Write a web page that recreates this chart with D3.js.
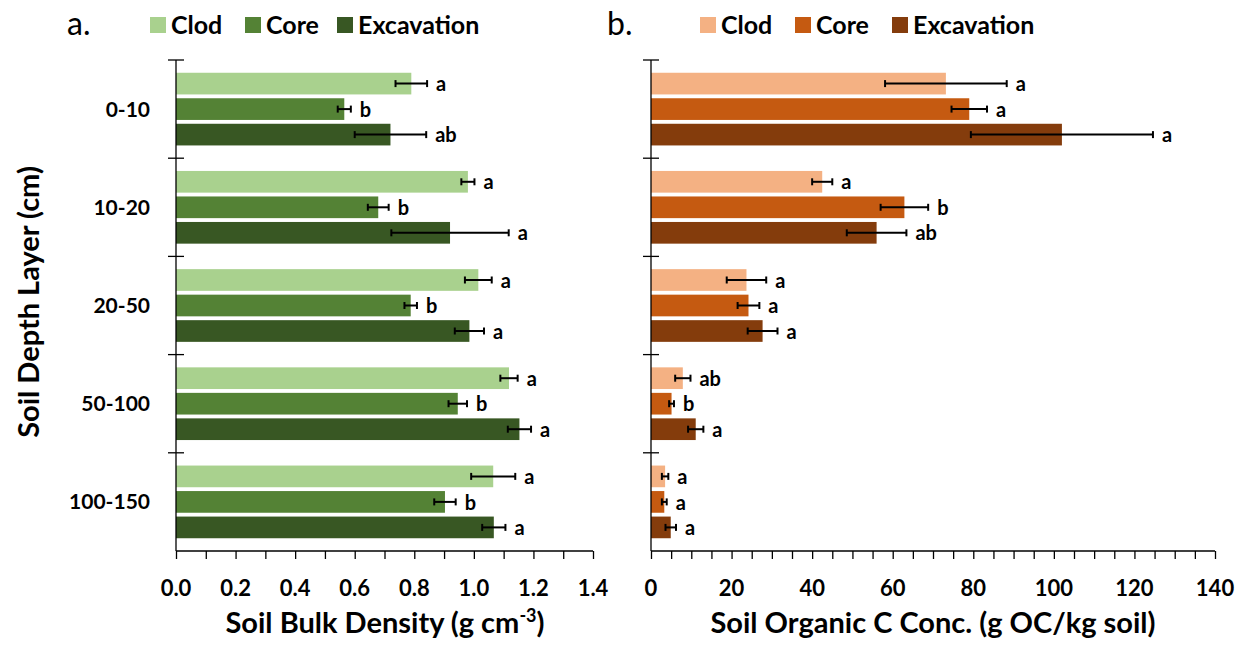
<!DOCTYPE html>
<html>
<head>
<meta charset="utf-8">
<script src="https://cdn.jsdelivr.net/npm/d3@7"></script>
<style>
  body { margin: 0; background: #fff; }
  text { font-family: Lato, "Open Sans", sans-serif; }
</style>
</head>
<body>
<script>
var width = 1247, height = 647;

// depth layers and treatments
var layers = ["0-10", "10-20", "20-50", "50-100", "100-150"];
var methods = ["Clod", "Core", "Excavation"];

// bulk density (g cm-3), per method, per layer
var bdClod = [0.79, 0.98, 1.015, 1.118, 1.065];
var bdCore = [0.565, 0.679, 0.788, 0.946, 0.903];
var bdExc  = [0.72, 0.92, 0.985, 1.153, 1.067];
var bdClodErr = [0.053, 0.022, 0.045, 0.029, 0.074];
var bdCoreErr = [0.022, 0.035, 0.021, 0.031, 0.036];
var bdExcErr  = [0.12, 0.197, 0.049, 0.039, 0.039];
var bdClodLet = ["a", "a", "a", "a", "a"];
var bdCoreLet = ["b", "b", "b", "b", "b"];
var bdExcLet  = ["ab", "a", "a", "a", "a"];

// organic C (g OC/kg soil)
var ocClod = [73.2, 42.5, 23.7, 7.9, 3.5];
var ocCore = [79.0, 62.9, 24.2, 5.1, 3.3];
var ocExc  = [102.0, 56.0, 27.7, 11.1, 4.9];
var ocClodErr = [15.1, 2.5, 4.9, 1.9, 0.8];
var ocCoreErr = [4.4, 5.9, 2.7, 0.6, 0.6];
var ocExcErr  = [22.6, 7.4, 3.7, 1.9, 1.3];
var ocClodLet = ["a", "a", "a", "ab", "a"];
var ocCoreLet = ["a", "b", "a", "b", "a"];
var ocExcLet  = ["a", "ab", "a", "a", "a"];

var bdTicks = [0, 0.2, 0.4, 0.6, 0.8, 1.0, 1.2, 1.4];
var ocTicks = [0, 20, 40, 60, 80, 100, 120, 140];

var greens = ["#a9d18e", "#548235", "#385723"];
var browns = ["#f4b183", "#c55a11", "#843c0c"];

function buildRows(vals, errs, lets) {
  var rows = [];
  layers.forEach(function(l, i) {
    methods.forEach(function(m, j) {
      rows.push({layer: l, method: m, v: vals[j][i], e: errs[j][i], lab: lets[j][i]});
    });
  });
  return rows;
}

var svg = d3.select("body").append("svg")
    .attr("width", width)
    .attr("height", height);

var y = d3.scaleBand().domain(layers).range([60, 551]).paddingInner(0).paddingOuter(0);
var yIn = d3.scaleBand().domain(methods).range([0, y.bandwidth()])
    .paddingInner(0.15).paddingOuter(0.5);

function drawPanel(opt) {
  var x = d3.scaleLinear().domain([0, opt.max]).range([opt.x0, opt.x1]);
  var g = svg.append("g");
  var rows = buildRows(opt.vals, opt.errs, opt.lets);

  g.selectAll(".bar").data(rows).enter().append("rect")
      .attr("x", x(0))
      .attr("y", function(d) { return y(d.layer) + yIn(d.method); })
      .attr("width", function(d) { return x(d.v) - x(0); })
      .attr("height", yIn.bandwidth())
      .attr("fill", function(d) { return opt.colors[methods.indexOf(d.method)]; });

  // error bars
  var eb = g.selectAll(".err").data(rows).enter().append("g")
      .attr("transform", function(d) { return "translate(0," + (y(d.layer) + yIn(d.method) + yIn.bandwidth() / 2) + ")"; })
      .attr("stroke", "#000").attr("stroke-width", 2);
  eb.append("line")
      .attr("x1", function(d) { return x(d.v - d.e); })
      .attr("x2", function(d) { return x(d.v + d.e); });
  eb.append("line")
      .attr("x1", function(d) { return x(d.v - d.e); })
      .attr("x2", function(d) { return x(d.v - d.e); })
      .attr("y1", -3.5).attr("y2", 3.5);
  eb.append("line")
      .attr("x1", function(d) { return x(d.v + d.e); })
      .attr("x2", function(d) { return x(d.v + d.e); })
      .attr("y1", -3.5).attr("y2", 3.5);

  g.selectAll(".lab").data(rows).enter().append("text")
      .attr("x", function(d) { return x(d.v + d.e) + 9; })
      .attr("y", function(d) { return y(d.layer) + yIn(d.method) + yIn.bandwidth() / 2; })
      .attr("dy", "0.38em")
      .attr("font-size", 20).attr("font-weight", "bold")
      .text(function(d) { return d.lab; });

  // x axis with minor ticks
  var minor = d3.range(0, opt.max + opt.minor / 2, opt.minor);
  var xa = g.append("g").attr("transform", "translate(0,551)")
      .call(d3.axisBottom(x).tickValues(minor).tickSize(8).tickFormat(""));
  xa.select(".domain").attr("stroke-width", 1.3).attr("d", "M" + x(0) + ",0H" + x(opt.max));
  xa.selectAll(".tick line").attr("stroke-width", 1.3);
  g.selectAll(".xlab").data(opt.ticks).enter().append("text")
      .attr("x", function(d) { return x(d); })
      .attr("y", 596)
      .attr("text-anchor", "middle")
      .attr("font-size", 22).attr("font-weight", "bold")
      .text(opt.fmt);

  // y axis line with category boundary ticks
  g.append("line").attr("x1", x(0)).attr("x2", x(0)).attr("y1", 60).attr("y2", 551)
      .attr("stroke", "#000").attr("stroke-width", 1.3);
  var bounds = layers.map(function(l) { return y(l); });
  g.selectAll(".ytick").data(bounds).enter().append("line")
      .attr("x1", x(0) - 8).attr("x2", x(0) + 8)
      .attr("y1", function(d) { return d; }).attr("y2", function(d) { return d; })
      .attr("stroke", "#000").attr("stroke-width", 1.3);

  // legend
  var lg = g.append("g");
  lg.append("text").attr("x", opt.letterX).attr("y", 35)
      .attr("font-size", 32).attr("font-family", "'Open Sans', sans-serif")
      .text(opt.letter);
  opt.legX.forEach(function(lx, j) {
    lg.append("rect").attr("x", lx).attr("y", 17).attr("width", 16).attr("height", 16)
        .attr("fill", opt.colors[j]);
    lg.append("text").attr("x", lx + 21).attr("y", 34)
        .attr("font-size", 25).attr("font-weight", "bold")
        .text(methods[j]);
  });

  return x;
}

drawPanel({
  x0: 176, x1: 593, max: 1.4, minor: 0.1, ticks: bdTicks,
  fmt: function(d) { return d3.format(".1f")(d); },
  vals: [bdClod, bdCore, bdExc], errs: [bdClodErr, bdCoreErr, bdExcErr],
  lets: [bdClodLet, bdCoreLet, bdExcLet], colors: greens,
  letter: "a.", letterX: 67, legX: [150, 245, 337]
});

drawPanel({
  x0: 651, x1: 1215, max: 140, minor: 5, ticks: ocTicks,
  fmt: function(d) { return d; },
  vals: [ocClod, ocCore, ocExc], errs: [ocClodErr, ocCoreErr, ocExcErr],
  lets: [ocClodLet, ocCoreLet, ocExcLet], colors: browns,
  letter: "b.", letterX: 607, legX: [700, 795, 892]
});

// category labels
svg.selectAll(".cat").data(layers).enter().append("text")
    .attr("x", 150)
    .attr("y", function(d) { return y(d) + y.bandwidth() / 2; })
    .attr("dy", "0.36em")
    .attr("text-anchor", "end")
    .attr("font-size", 21).attr("font-weight", "bold")
    .text(function(d) { return d; });

// axis titles
svg.append("text")
    .attr("transform", "translate(29,302) rotate(-90)")
    .attr("text-anchor", "middle")
    .attr("dy", "0.36em")
    .attr("font-size", 29).attr("font-weight", "bold")
    .text("Soil Depth Layer (cm)");

var t1 = svg.append("text").attr("x", 385).attr("y", 633)
    .attr("text-anchor", "middle")
    .attr("font-size", 29).attr("font-weight", "bold");
t1.append("tspan").text("Soil Bulk Density (g cm");
t1.append("tspan").attr("font-size", 18).attr("dy", -11).text("-3");
t1.append("tspan").attr("dy", 11).text(")");

svg.append("text").attr("x", 933).attr("y", 633)
    .attr("text-anchor", "middle")
    .attr("font-size", 29).attr("font-weight", "bold")
    .text("Soil Organic C Conc. (g OC/kg soil)");
</script>
</body>
</html>
